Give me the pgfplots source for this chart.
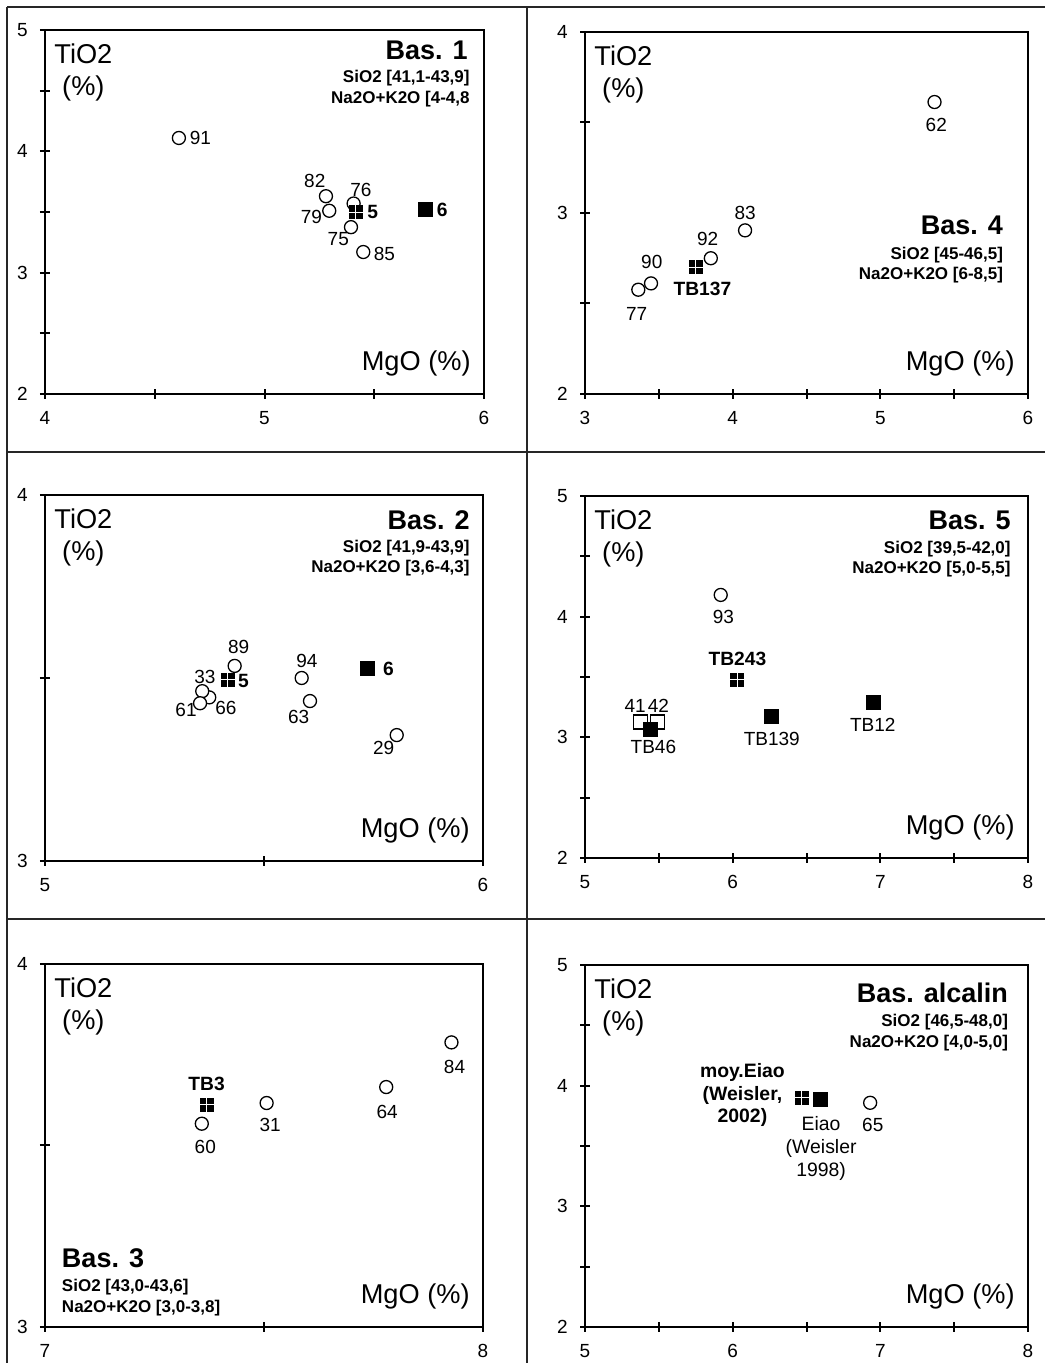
\documentclass[border=0pt]{standalone}
\usepackage{fontspec}
\setmainfont{Liberation Sans}
\usepackage{pgfplots}
\pgfplotsset{compat=1.18}

\pgfdeclareplotmark{qsquare}{%
  \pgfpathrectangle{\pgfpoint{-\pgfplotmarksize}{-\pgfplotmarksize}}{\pgfpoint{2\pgfplotmarksize}{2\pgfplotmarksize}}%
  \pgfusepathqfill
  \pgfsetstrokecolor{white}%
  \pgfsetlinewidth{0.6pt}%
  \pgfpathmoveto{\pgfpoint{-\pgfplotmarksize}{0pt}}%
  \pgfpathlineto{\pgfpoint{\pgfplotmarksize}{0pt}}%
  \pgfpathmoveto{\pgfpoint{0pt}{-\pgfplotmarksize}}%
  \pgfpathlineto{\pgfpoint{0pt}{\pgfplotmarksize}}%
  \pgfusepathqstroke
}

\newcommand{\bigf}{\fontsize{13.5}{15}\selectfont\bfseries}
\newcommand{\smf}{\fontsize{8.5}{10}\selectfont\bfseries}
\newcommand{\labf}{\fontsize{9.5}{11.5}\selectfont}
\newcommand{\blabf}{\fontsize{9.6}{11.2}\selectfont\bfseries}

\tikzset{
  lab/.style={font=\labf, inner sep=0pt, anchor=center},
  blab/.style={font=\blabf, inner sep=0pt, anchor=center},
}

\pgfplotsset{
  panel/.style={scale only axis, anchor=south west,
    axis line style={line width=1pt, black},
    tick style={line width=1pt, black},
    tick align=center, major tick length=5pt, minor tick length=5pt,
    minor tick num=1,
    xtick pos=bottom, ytick pos=left,
    every tick label/.append style={font=\fontsize{9.5}{11}\selectfont, inner sep=0pt},
    /pgf/number format/assume math mode=true,
    yticklabel style={xshift=-6pt},
    xticklabel style={yshift=-6pt},
    clip=false,
  },
  circ/.style={only marks, mark=*, mark size=3.25pt, mark options={fill=white, draw=black, line width=0.65pt}},
  fsq/.style={only marks, mark=square*, mark size=3.5pt, mark options={fill=black, draw=black}},
  osq/.style={only marks, mark=square*, mark size=3.5pt, mark options={fill=white, draw=black, line width=0.65pt}},
  qsq/.style={only marks, mark=qsquare, mark size=3.5pt, mark options={fill=black, draw=black}},
}

\newcommand{\axtexts}{%
  \node[anchor=north west, align=center, font=\fontsize{13.6}{16}\selectfont, inner sep=0pt, xshift=4.5pt, yshift=-6.5pt] at (rel axis cs:0,1) {TiO2\\(\%)};
  \node[anchor=base east, font=\fontsize{13.6}{15}\selectfont, inner sep=0pt, xshift=-6.5pt, yshift=11.75pt] at (rel axis cs:1,0) {MgO (\%)};
}

\begin{document}
\begin{tikzpicture}
\path[use as bounding box] (0,0) rectangle (522.5pt,681.5pt);
\begin{scope}[line width=0.7pt, black!85]
\draw (3.5pt,678pt) -- (522.5pt,678pt);
\draw (3.5pt,678pt) -- (3.5pt,0pt);
\draw (263.5pt,678pt) -- (263.5pt,0pt);
\draw (3.5pt,455.5pt) -- (522.5pt,455.5pt);
\draw (3.5pt,222pt) -- (522.5pt,222pt);
\end{scope}

% ---------- Bas. 1 ----------
\begin{axis}[panel, at={(22.5pt,484.5pt)}, width=219.5pt, height=182pt,
  xmin=4, xmax=6, ymin=2, ymax=5, xtick={4,5,6}, ytick={2,3,4,5}]
\addplot[circ] coordinates {(4.61,4.11) (5.28,3.63) (5.295,3.51) (5.406,3.57) (5.394,3.375) (5.45,3.17)};
\addplot[qsq] coordinates {(5.415,3.496)};
\addplot[fsq] coordinates {(5.735,3.52)};
\node[lab] at (axis cs:4.708,4.112) {91};
\node[lab] at (axis cs:5.229,3.756) {82};
\node[lab] at (axis cs:5.439,3.679) {76};
\node[lab] at (axis cs:5.214,3.460) {79};
\node[lab] at (axis cs:5.336,3.274) {75};
\node[lab] at (axis cs:5.546,3.153) {85};
\node[blab] at (axis cs:5.493,3.501) {5};
\node[blab] at (axis cs:5.81,3.521) {6};
\axtexts
\node[anchor=base east, font=\bigf, inner sep=0pt, xshift=-8pt, yshift=-15pt] at (rel axis cs:1,1) {Bas. 1};
\node[anchor=base east, font=\smf, inner sep=0pt, xshift=-7pt, yshift=-26.3pt] at (rel axis cs:1,1) {SiO2 [41,1-43,9]};
\node[anchor=base east, font=\smf, inner sep=0pt, xshift=-7pt, yshift=-36.7pt] at (rel axis cs:1,1) {Na2O+K2O [4-4,8};
\end{axis}

% ---------- Bas. 4 ----------
\begin{axis}[panel, at={(292.5pt,484.5pt)}, width=221.5pt, height=181pt,
  xmin=3, xmax=6, ymin=2, ymax=4, xtick={3,4,5,6}, ytick={2,3,4}]
\addplot[circ] coordinates {(5.367,3.613) (4.084,2.904) (3.852,2.75) (3.447,2.611) (3.361,2.576)};
\addplot[qsq] coordinates {(3.75,2.70)};
\node[lab] at (axis cs:5.379,3.488) {62};
\node[lab] at (axis cs:4.084,3.0) {83};
\node[lab] at (axis cs:3.831,2.856) {92};
\node[lab] at (axis cs:3.452,2.727) {90};
\node[lab] at (axis cs:3.350,2.444) {77};
\node[blab] at (axis cs:3.795,2.580) {TB137};
\axtexts
\node[anchor=base east, font=\bigf, inner sep=0pt, xshift=-12.3pt, yshift=-101.5pt] at (rel axis cs:1,1) {Bas. 4};
\node[anchor=base east, font=\smf, inner sep=0pt, xshift=-12.3pt, yshift=-113.7pt] at (rel axis cs:1,1) {SiO2 [45-46,5]};
\node[anchor=base east, font=\smf, inner sep=0pt, xshift=-12.3pt, yshift=-124pt] at (rel axis cs:1,1) {Na2O+K2O [6-8,5]};
\end{axis}

% ---------- Bas. 2 ----------
\begin{axis}[panel, at={(22.5pt,251pt)}, width=219pt, height=183pt,
  xmin=5, xmax=6, ymin=3, ymax=4, xtick={5,6}, ytick={3,4}]
\addplot[circ] coordinates {(5.433,3.533) (5.375,3.447) (5.359,3.464) (5.354,3.431) (5.586,3.50) (5.605,3.437) (5.803,3.344)};
\addplot[qsq] coordinates {(5.417,3.495)};
\addplot[fsq] coordinates {(5.735,3.526)};
\node[lab] at (axis cs:5.442,3.584) {89};
\node[lab] at (axis cs:5.365,3.504) {33};
\node[blab] at (axis cs:5.453,3.493) {5};
\node[lab] at (axis cs:5.322,3.414) {61};
\node[lab] at (axis cs:5.413,3.417) {66};
\node[lab] at (axis cs:5.598,3.546) {94};
\node[lab] at (axis cs:5.579,3.394) {63};
\node[blab] at (axis cs:5.784,3.525) {6};
\node[lab] at (axis cs:5.773,3.308) {29};
\axtexts
\node[anchor=base east, font=\bigf, inner sep=0pt, xshift=-6.5pt, yshift=-17.5pt] at (rel axis cs:1,1) {Bas. 2};
\node[anchor=base east, font=\smf, inner sep=0pt, xshift=-6.5pt, yshift=-29pt] at (rel axis cs:1,1) {SiO2 [41,9-43,9]};
\node[anchor=base east, font=\smf, inner sep=0pt, xshift=-6.5pt, yshift=-39pt] at (rel axis cs:1,1) {Na2O+K2O [3,6-4,3]};
\end{axis}

% ---------- Bas. 5 ----------
\begin{axis}[panel, at={(292.5pt,252.5pt)}, width=221.5pt, height=181pt,
  xmin=5, xmax=8, ymin=2, ymax=5, xtick={5,6,7,8}, ytick={2,3,4,5}]
\addplot[osq] coordinates {(5.377,3.126) (5.49,3.126)};
\addplot[fsq] coordinates {(5.44,3.068) (6.26,3.173) (6.954,3.289)};
\addplot[circ] coordinates {(5.919,4.18)};
\addplot[qsq] coordinates {(6.032,3.476)};
\node[lab] at (axis cs:5.937,4.0) {93};
\node[blab] at (axis cs:6.032,3.648) {TB243};
\node[lab] at (axis cs:5.339,3.264) {41};
\node[lab] at (axis cs:5.497,3.264) {42};
\node[lab] at (axis cs:5.463,2.919) {TB46};
\node[lab] at (axis cs:6.265,2.985) {TB139};
\node[lab] at (axis cs:6.949,3.104) {TB12};
\axtexts
\node[anchor=base east, font=\bigf, inner sep=0pt, xshift=-8.5pt, yshift=-17pt] at (rel axis cs:1,1) {Bas. 5};
\node[anchor=base east, font=\smf, inner sep=0pt, xshift=-8.5pt, yshift=-29pt] at (rel axis cs:1,1) {SiO2 [39,5-42,0]};
\node[anchor=base east, font=\smf, inner sep=0pt, xshift=-8.5pt, yshift=-39pt] at (rel axis cs:1,1) {Na2O+K2O [5,0-5,5]};
\end{axis}

% ---------- Bas. 3 ----------
\begin{axis}[panel, at={(22.5pt,18pt)}, width=219pt, height=181.5pt,
  xmin=7, xmax=8, ymin=3, ymax=4, xtick={7,8}, ytick={3,4}]
\addplot[circ] coordinates {(7.358,3.56) (7.506,3.617) (7.779,3.661) (7.928,3.784)};
\addplot[qsq] coordinates {(7.369,3.612)};
\node[blab] at (axis cs:7.369,3.669) {TB3};
\node[lab] at (axis cs:7.366,3.495) {60};
\node[lab] at (axis cs:7.514,3.556) {31};
\node[lab] at (axis cs:7.781,3.592) {64};
\node[lab] at (axis cs:7.935,3.715) {84};
\axtexts
\node[anchor=base west, font=\bigf, inner sep=0pt, xshift=8.3pt, yshift=29.7pt] at (rel axis cs:0,0) {Bas. 3};
\node[anchor=base west, font=\smf, inner sep=0pt, xshift=8.3pt, yshift=17.7pt] at (rel axis cs:0,0) {SiO2 [43,0-43,6]};
\node[anchor=base west, font=\smf, inner sep=0pt, xshift=8.3pt, yshift=7.3pt] at (rel axis cs:0,0) {Na2O+K2O [3,0-3,8]};
\end{axis}

% ---------- Bas. alcalin ----------
\begin{axis}[panel, at={(292.5pt,18pt)}, width=221.5pt, height=181pt,
  xmin=5, xmax=8, ymin=2, ymax=5, xtick={5,6,7,8}, ytick={2,3,4,5}]
\addplot[qsq] coordinates {(6.468,3.90)};
\addplot[fsq] coordinates {(6.593,3.889)};
\addplot[circ] coordinates {(6.931,3.858)};
\node[blab, align=center, font=\fontsize{9.7}{11.2}\selectfont\bfseries] at (axis cs:6.066,3.922) {moy.Eiao\\(Weisler,\\2002)};
\node[lab, align=center, font=\fontsize{9.7}{11.5}\selectfont] at (axis cs:6.599,3.479) {Eiao\\(Weisler\\1998)};
\node[lab] at (axis cs:6.949,3.673) {65};
\axtexts
\node[anchor=base east, font=\bigf, inner sep=0pt, xshift=-9.8pt, yshift=-18.7pt] at (rel axis cs:1,1) {Bas. alcalin};
\node[anchor=base east, font=\smf, inner sep=0pt, xshift=-9.8pt, yshift=-30.8pt] at (rel axis cs:1,1) {SiO2 [46,5-48,0]};
\node[anchor=base east, font=\smf, inner sep=0pt, xshift=-9.8pt, yshift=-41.3pt] at (rel axis cs:1,1) {Na2O+K2O [4,0-5,0]};
\end{axis}
\end{tikzpicture}
\end{document}
